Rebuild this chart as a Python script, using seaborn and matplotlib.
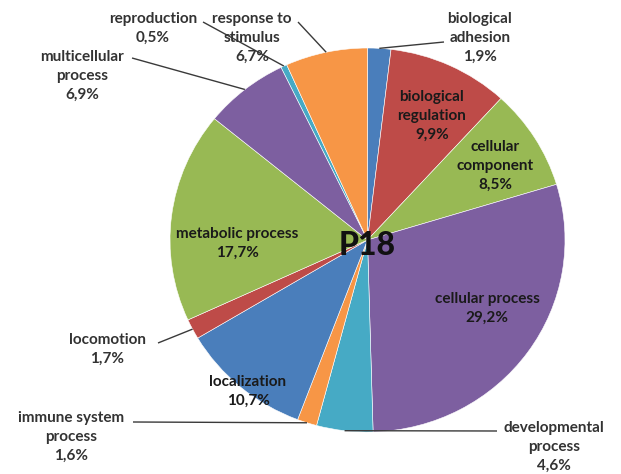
import numpy as np
import matplotlib
matplotlib.use("Agg")
import matplotlib.pyplot as plt
import seaborn as sns

sns.set_theme(style="white")
plt.rcParams["font.family"] = ["Lato", "DejaVu Sans"]

# GO biological process categories, clockwise from 12 o'clock
categories = [
    "biological\nadhesion", "biological\nregulation", "cellular\ncomponent",
    "cellular process", "developmental\nprocess", "immune system\nprocess",
    "localization", "locomotion", "metabolic process",
    "multicellular\nprocess", "reproduction", "response to\nstimulus",
]
percent = [1.9, 9.9, 8.5, 29.2, 4.6, 1.6, 10.7, 1.7, 17.7, 6.9, 0.5, 6.7]
colors = ["#4A7EBB", "#BE4B48", "#98B954", "#7D5FA0", "#46AAC5", "#F79646",
          "#4A7EBB", "#BE4B48", "#98B954", "#7D5FA0", "#46AAC5", "#F79646"]
title = "P18"

W, H = 621, 474
cx, cy, r = 367.5, 240, 197.5      # pie centre / radius in pixels (y from top)
sy = 192 / 197.5                   # pie is slightly squashed vertically


def to_data(x, y):
    """pixel position (y from top) -> data coordinates"""
    return x, (H - y) / sy


# label anchors (pixel coords, y from top)
label_pos = [(480, 38), (432, 116), (495, 166), (487, 308), (554, 447),
             (71, 437), (248, 391), (107, 349), (237, 243), (82, 76),
             (153, 28), (252, 38)]
inside = [False, True, True, True, False, False, True, False, True, False,
          False, False]
# outer end of each leader line (None = label sits on its wedge)
leader_end = [(444, 42), None, None, None, (497, 431), (133, 422), None,
              (158, 343), None, (132, 58), (203, 22), (298, 22)]

fig = plt.figure(figsize=(W / 100, H / 100), dpi=100)
ax = fig.add_axes([0, 0, 1, 1])

pcx, pcy = to_data(cx, cy)
ax.pie(percent, colors=colors, startangle=90, counterclock=False,
       center=(pcx, pcy), radius=r,
       wedgeprops=dict(edgecolor="white", linewidth=0.4))
ax.set_aspect("auto")
ax.set_xlim(0, W)
ax.set_ylim(0, H / sy)
ax.axis("off")

total = sum(percent)
cum = np.cumsum([0] + percent[:-1])
txt_kw = dict(ha="center", va="center", fontsize=11, fontweight="bold",
              linespacing=1.45)
for i, (name, p) in enumerate(zip(categories, percent)):
    label = f"{name}\n{p:.1f}%".replace(".", ",")
    color = "#1a1a1a" if inside[i] else "#333333"
    ax.text(*to_data(*label_pos[i]), label, color=color, **txt_kw)
    if leader_end[i] is not None:
        mid = np.deg2rad(90 - 360 * (cum[i] + p / 2) / total)
        ex, ey = pcx + r * np.cos(mid), pcy + r * np.sin(mid)
        lx, ly = to_data(*leader_end[i])
        ax.plot([lx, ex], [ly, ey], color="#3a3a3a", lw=1.0,
                solid_capstyle="butt")

ax.text(*to_data(367, 246), title, ha="center", va="center", fontsize=23,
        fontweight="black", color="#111111")

fig.savefig("out.png", dpi=100, facecolor="white")
